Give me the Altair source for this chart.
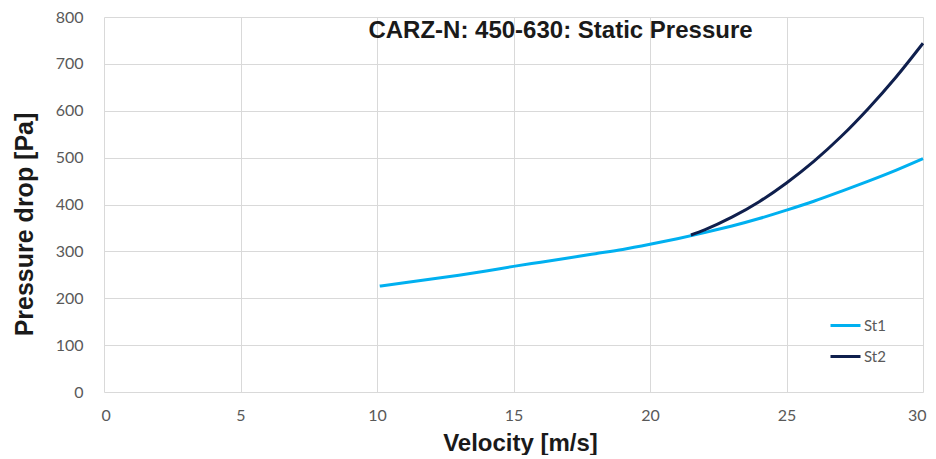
import altair as alt
import pandas as pd

# St1 series
st1_velocity = [10.1, 11, 12, 13, 14, 15, 16, 17, 18, 19, 20, 21, 22, 23, 24, 25, 26, 27, 28, 29, 30]
st1_pressure = [226, 233, 241, 249, 258, 268, 277, 286, 295, 304, 315, 327, 340, 354, 370, 388, 407, 428, 450, 473, 498]

# St2 series
st2_velocity = [21.5, 22, 23, 24, 25, 26, 27, 28, 29, 30]
st2_pressure = [335, 346, 373, 406, 446, 492, 545, 605, 671, 744]

series_names = ["St1", "St2"]
series_colors = ["#00B0F0", "#0f1f4d"]

x_ticks = [0, 5, 10, 15, 20, 25, 30]
y_ticks = [0, 100, 200, 300, 400, 500, 600, 700, 800]

df = pd.concat([
    pd.DataFrame({"v": st1_velocity, "p": st1_pressure, "s": "St1"}),
    pd.DataFrame({"v": st2_velocity, "p": st2_pressure, "s": "St2"}),
])

chart = alt.Chart(df).mark_line(strokeWidth=3, interpolate="monotone").encode(
    x=alt.X("v:Q", scale=alt.Scale(domain=[0, 30], nice=False),
            axis=alt.Axis(values=x_ticks, title="Velocity [m/s]", grid=True, domain=False, ticks=False,
                          labelFlush=True, labelFlushOffset=3,
                          labelPadding=15, labelFontSize=16, labelColor="#595959", labelFont="Lato",
                          titleFontSize=24, titleFont="Liberation Sans", titleFontWeight="bold",
                          titleColor="#1a1a1a", titleX=416, titleY=58, titleBaseline="alphabetic",
                          titleAlign="center", gridColor="#d9d9d9")),
    y=alt.Y("p:Q", scale=alt.Scale(domain=[0, 800], nice=False),
            axis=alt.Axis(values=y_ticks, title="Pressure drop [Pa]", grid=True, domain=False, ticks=False,
                          labelFlush=False,
                          labelPadding=21, labelFontSize=16, labelColor="#595959", labelFont="Lato",
                          titleFontSize=25, titleFont="Liberation Sans", titleFontWeight="bold",
                          titleColor="#1a1a1a", titleX=-80, titleY=207, titleAngle=-90,
                          titleAlign="center", titleBaseline="middle", gridColor="#d9d9d9")),
    color=alt.Color("s:N", scale=alt.Scale(domain=series_names, range=series_colors),
                    legend=alt.Legend(title=None, orient="none", legendX=725, legendY=292,
                                      symbolType="stroke", symbolSize=900, symbolStrokeWidth=3,
                                      labelFontSize=15, labelColor="#595959", labelFont="Lato",
                                      labelOffset=2, rowPadding=6, padding=0)),
).properties(
    width=819,
    height=375,
    title=alt.TitleParams("CARZ-N: 450-630: Static Pressure", anchor="middle", dx=47, dy=38,
                          fontSize=24, font="Liberation Sans", fontWeight="bold", color="#1a1a1a"),
    autosize=alt.AutoSizeParams(type="none"),
    padding={"left": 96, "top": 9, "right": 4, "bottom": 63},
).configure_view(stroke=None)

chart.save("out.html", embed_options={"renderer": "svg", "actions": False})
